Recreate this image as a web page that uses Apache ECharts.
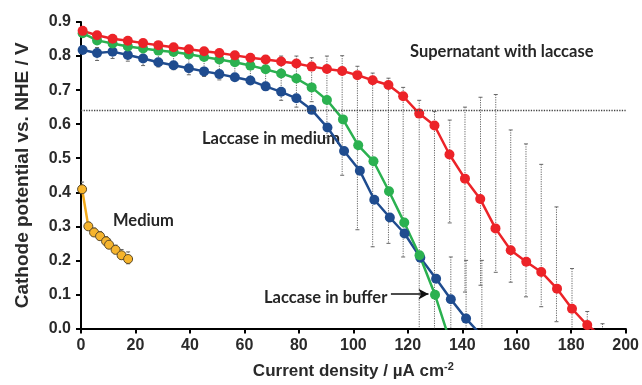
<!DOCTYPE html>
<html>
<head>
<meta charset="utf-8">
<script src="https://cdn.jsdelivr.net/npm/echarts@6/dist/echarts.min.js"></script>
<style>
  html, body {margin: 0; padding: 0; background: #fff;}
  #chart {width: 642px; height: 385px;}
</style>
</head>
<body>
<div id="chart"></div>
<script>
// current density (µA cm-2) and cathode potential (V vs NHE)
const supernatantX = [0.6, 5.9, 11.6, 17.2, 22.8, 28.4, 34.0, 39.6, 45.2, 50.8, 56.5, 62.2, 67.8, 73.5, 79.1, 84.7, 90.3, 95.9, 101.5, 107.1, 112.9, 118.3, 124.2, 129.8, 135.3, 141.0, 146.6, 152.2, 157.8, 163.5, 169.0, 174.8, 180.3, 185.9, 191.5];
const supernatantV = [0.874, 0.861, 0.851, 0.845, 0.838, 0.832, 0.826, 0.820, 0.814, 0.809, 0.802, 0.795, 0.790, 0.784, 0.778, 0.769, 0.762, 0.756, 0.744, 0.729, 0.715, 0.682, 0.631, 0.596, 0.511, 0.440, 0.380, 0.294, 0.230, 0.196, 0.166, 0.117, 0.058, 0.010, -0.025];

const inMediumX = [0.6, 5.9, 11.6, 17.2, 22.8, 28.4, 34.0, 39.6, 45.2, 50.8, 56.5, 62.2, 67.8, 73.5, 79.1, 84.7, 90.5, 96.6, 102.4, 107.7, 113.4, 118.8, 124.6, 130.4, 135.8, 141.4, 147.0];
const inMediumV = [0.818, 0.809, 0.813, 0.803, 0.793, 0.782, 0.773, 0.764, 0.755, 0.747, 0.738, 0.728, 0.711, 0.695, 0.676, 0.642, 0.590, 0.521, 0.463, 0.378, 0.326, 0.279, 0.208, 0.146, 0.086, 0.029, -0.020];

const inBufferX = [0.6, 5.9, 11.6, 17.2, 22.8, 28.4, 34.0, 39.6, 45.2, 50.8, 56.5, 62.2, 67.8, 73.5, 79.1, 84.7, 90.3, 96.2, 101.8, 107.4, 113.1, 118.7, 124.3, 130.0, 135.6];
const inBufferV = [0.867, 0.846, 0.837, 0.828, 0.822, 0.816, 0.812, 0.805, 0.797, 0.790, 0.782, 0.772, 0.761, 0.749, 0.734, 0.708, 0.671, 0.614, 0.538, 0.491, 0.403, 0.311, 0.215, 0.099, -0.040];

const mediumX = [0.4, 2.7, 4.8, 7.0, 9.2, 10.3, 12.7, 14.9, 17.3];
const mediumV = [0.409, 0.300, 0.282, 0.271, 0.256, 0.246, 0.231, 0.215, 0.204];

// error bars: [x, low, high]
const errorBars = [
    [0.4, 0.400, 0.430], [2.7, 0.290, 0.312], [4.8, 0.272, 0.295], [7.0, 0.260, 0.285],
    [9.2, 0.245, 0.270], [10.3, 0.235, 0.262], [12.7, 0.220, 0.245], [14.9, 0.203, 0.232], [17.3, 0.190, 0.225],
    [5.9, 0.787, 0.825], [11.6, 0.793, 0.825], [17.2, 0.785, 0.812], [22.8, 0.772, 0.805],
    [28.4, 0.768, 0.835], [34.0, 0.760, 0.822], [39.6, 0.745, 0.812], [45.2, 0.740, 0.815],
    [50.8, 0.730, 0.800], [56.5, 0.735, 0.800], [62.2, 0.720, 0.800], [67.8, 0.700, 0.792],
    [73.5, 0.670, 0.800], [79.1, 0.650, 0.800], [84.7, 0.666, 0.795], [90.3, 0.560, 0.800],
    [95.9, 0.450, 0.801], [101.5, 0.290, 0.770], [107.1, 0.240, 0.750], [112.9, 0.250, 0.735],
    [118.3, 0.210, 0.708], [124.2, 0.000, 0.670], [129.8, 0.000, 0.637], [135.4, 0.310, 0.612],
    [135.8, 0.000, 0.210], [141.0, 0.107, 0.650], [141.4, 0.000, 0.200], [146.7, 0.127, 0.679],
    [147.2, 0.000, 0.200], [152.3, 0.165, 0.687], [157.8, 0.136, 0.583], [163.4, 0.093, 0.542],
    [169.0, 0.064, 0.482], [174.6, 0.020, 0.357], [180.3, 0.000, 0.176], [185.9, 0.000, 0.050],
    [191.5, 0.000, 0.014]
];

const xTicks = [0, 20, 40, 60, 80, 100, 120, 140, 160, 180, 200];
const yTicks = [0, 0.1, 0.2, 0.3, 0.4, 0.5, 0.6, 0.7, 0.8, 0.9];
const thresholdV = 0.64;

const zip = (xs, ys) => xs.map((x, i) => [x, ys[i]]);
const labelFont = 'Lato';

const chart = echarts.init(document.getElementById('chart'));

function renderErrorBar(params, api) {
    const x = api.value(0);
    const top = api.coord([x, api.value(2)]);
    const bot = api.coord([x, api.value(1)]);
    const cap = 2;
    const style = {stroke: '#666', lineWidth: 1, lineDash: [1.2, 1.2]};
    const kids = [
        {type: 'line', shape: {x1: top[0], y1: top[1], x2: bot[0], y2: bot[1]}, style: style},
        {type: 'line', shape: {x1: top[0] - cap, y1: top[1], x2: top[0] + cap, y2: top[1]}, style: {stroke: '#666', lineWidth: 1}}
    ];
    if (api.value(1) > 0) {
        kids.push({type: 'line', shape: {x1: bot[0] - cap, y1: bot[1], x2: bot[0] + cap, y2: bot[1]}, style: {stroke: '#666', lineWidth: 1}});
    }
    return {type: 'group', children: kids};
}

const lineSeries = (name, data, color, extra) => Object.assign({
    name: name,
    type: 'line',
    data: data,
    symbol: 'circle',
    symbolSize: 10,
    clip: true,
    z: 3,
    lineStyle: {color: color, width: 2.5},
    itemStyle: {color: color},
    animation: false
}, extra || {});

chart.setOption({
    animation: false,
    textStyle: {fontFamily: 'Liberation Sans'},
    grid: {left: 81, right: 14, top: 22, bottom: 51},
    xAxis: {
        type: 'value',
        min: 0, max: 200, interval: 20,
        name: 'Current density / µA cm{sup|-2}',
        nameLocation: 'middle',
        nameGap: 33,
        nameTextStyle: {
            fontSize: 17, fontWeight: 'bold', color: '#2a2a2a', fontFamily: 'Liberation Sans',
            rich: {sup: {fontSize: 11, fontWeight: 'bold', color: '#2a2a2a', fontFamily: 'Liberation Sans', padding: [0, 0, 9, 0]}}
        },
        axisLine: {lineStyle: {color: '#000', width: 2}},
        axisTick: {inside: false, length: 5, lineStyle: {color: '#000', width: 2}},
        axisLabel: {fontSize: 16, fontWeight: 'bold', color: '#2a2a2a', margin: 9,
            formatter: v => xTicks.includes(v) ? String(v) : ''},
        splitLine: {show: false}
    },
    yAxis: {
        type: 'value',
        min: 0, max: 0.9, interval: 0.1,
        name: 'Cathode potential vs. NHE / V',
        nameLocation: 'middle',
        nameGap: 49,
        nameTextStyle: {fontSize: 19, fontWeight: 'bold', color: '#2a2a2a', fontFamily: 'Liberation Sans'},
        axisLine: {show: true, lineStyle: {color: '#000', width: 2}},
        axisTick: {show: true, inside: false, length: 5, lineStyle: {color: '#000', width: 2}},
        axisLabel: {fontSize: 16, fontWeight: 'bold', color: '#2a2a2a', margin: 10,
            formatter: v => yTicks.some(t => Math.abs(t - v) < 1e-6) ? v.toFixed(1) : ''},
        splitLine: {show: false}
    },
    series: [
        {
            name: 'errors',
            type: 'custom',
            renderItem: renderErrorBar,
            data: errorBars,
            encode: {x: 0, y: [1, 2]},
            clip: true,
            z: 1,
            silent: true
        },
        lineSeries('Medium', zip(mediumX, mediumV), '#F2AA1C', {
            symbolSize: 9,
            itemStyle: {color: '#F6B42C', borderColor: '#5b4a2a', borderWidth: 1}
        }),
        lineSeries('Laccase in medium', zip(inMediumX, inMediumV), '#1F4C8F', {
            markLine: {
                silent: true,
                symbol: ['none', 'arrow'],
                symbolSize: [8, 10],
                label: {show: false},
                lineStyle: {color: '#111', width: 1.5, type: 'solid'},
                data: [[{coord: [113.8, 0.101]}, {coord: [127.6, 0.101]}]]
            }
        }),
        lineSeries('Laccase in buffer', zip(inBufferX, inBufferV), '#2BB150'),
        lineSeries('Supernatant with laccase', zip(supernatantX, supernatantV), '#EC2328', {
            markLine: {
                silent: true,
                symbol: 'none',
                label: {show: false},
                lineStyle: {color: '#444', width: 1.3, type: 'dotted'},
                data: [{yAxis: thresholdV}]
            }
        })
    ],
    graphic: [
        {type: 'text', left: 410, top: 43, style: {text: 'Supernatant with laccase', font: 'bold 16.5px ' + labelFont, fill: '#262626'}},
        {type: 'text', left: 202, top: 130, style: {text: 'Laccase in medium', font: 'bold 16.5px ' + labelFont, fill: '#262626'}},
        {type: 'text', left: 113, top: 212, style: {text: 'Medium', font: 'bold 16.5px ' + labelFont, fill: '#262626'}},
        {type: 'text', left: 264, top: 289, style: {text: 'Laccase in buffer', font: 'bold 16.5px ' + labelFont, fill: '#262626'}}
    ]
});
</script>
</body>
</html>
